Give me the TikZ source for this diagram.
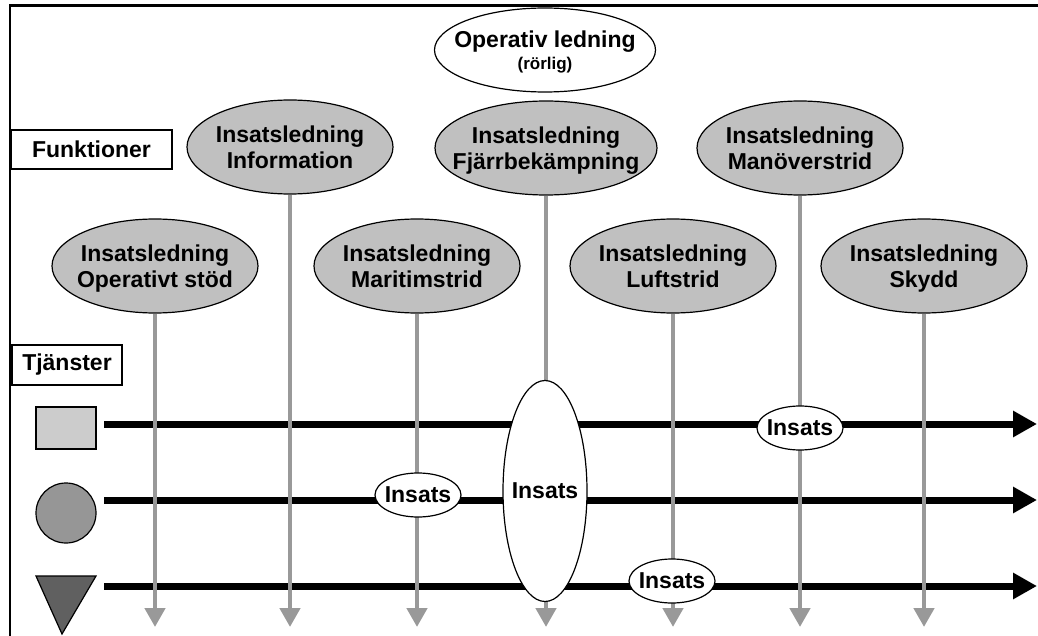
\documentclass[tikz,border=0pt]{standalone}
\usepackage{fontspec}
\setmainfont{Liberation Sans}
\usetikzlibrary{shapes.geometric,arrows.meta}
\definecolor{funkgray}{HTML}{C0C0C0}
\definecolor{linegray}{HTML}{999999}
\definecolor{sqgray}{HTML}{CCCCCC}
\definecolor{circgray}{HTML}{969696}
\definecolor{trigray}{HTML}{606060}

\begin{document}
\begin{tikzpicture}[x=0.5pt,y=-0.5pt,
	font=\bfseries\fontsize{11.5}{13}\selectfont,
	funk/.style={ellipse,draw,line width=0.6pt,fill=funkgray,align=center,text depth=-2pt,
		inner sep=0pt,inner xsep=-20pt,minimum width=103pt,minimum height=47pt},
	insats/.style={ellipse,draw,line width=0.6pt,fill=white,
		inner sep=0pt,inner xsep=-4pt,minimum width=43pt,minimum height=22pt},
	rubrik/.style={draw,line width=1pt,inner sep=0pt},
	tjanst/.style={linegray,line width=2.3pt,-{Triangle[width=10pt,length=9.5pt]}},
	flode/.style={line width=3.5pt,-{Triangle[width=12.5pt,length=12pt]}}]

		\useasboundingbox (0,0) rectangle (1038,636);
		\draw[line width=1.3pt] (10,636) -- (10,5.5) -- (1038,5.5);

		%% Ledning
		\node[funk,fill=white,minimum width=110.5pt,minimum height=42pt] at (545,50)(ol)
			{Operativ ledning\\[-2pt]{\fontsize{8.5}{9}\selectfont (rörlig)}};

		%% Funktioner, upper row
		\node[funk] at (290,147)(inf){Insatsledning\\Information};
		\node[funk,minimum width=111pt] at (546,148)(fj){Insatsledning\\Fjärrbekämpning};
		\node[funk] at (800,148)(man){Insatsledning\\Manöverstrid};

		%% Funktioner, lower row
		\node[funk] at (155,266)(ops){Insatsledning\\Operativt stöd};
		\node[funk] at (417,266)(mar){Insatsledning\\Maritimstrid};
		\node[funk] at (673,266)(luf){Insatsledning\\Luftstrid};
		\node[funk] at (924,266)(sky){Insatsledning\\Skydd};

		\node[rubrik,minimum width=80.5pt,minimum height=19.5pt] at (91.5,149.5)(fu){Funktioner};
		\node[rubrik,minimum width=55pt,minimum height=20pt] at (67,365)(tj){Tjänster};

		%% Tjänster
		\node[draw,line width=0.6pt,fill=sqgray,inner sep=0pt,
			minimum width=30pt,minimum height=21pt] at (66,428)(sq){};
		\node[circle,draw,line width=0.6pt,fill=circgray,inner sep=0pt,
			minimum size=30pt] at (66,513)(ci){};
		\draw[line width=0.6pt,fill=trigray] (36,576) -- (96,576) -- (62,634) -- cycle;

		\coordinate (s1) at (104,424);
		\coordinate (e1) at (1037,424);
		\coordinate (s2) at (104,500);
		\coordinate (e2) at (1037,500);
		\coordinate (s3) at (104,586);
		\coordinate (e3) at (1037,586);
		\draw[flode] (s1) -- (e1);
		\draw[flode] (s2) -- (e2);
		\draw[flode] (s3) -- (e3);

		\coordinate (bot) at (0,627);
		\foreach \f in {ops,inf,mar,fj,luf,man,sky}
			\draw[tjanst] (\f.south) -- (\f.south |- bot);

		%% Insats
		\node[insats] at (800,428)(i1){Insats};
		\node[insats] at (418,495)(i2){Insats};
		\node[insats,minimum width=42pt,minimum height=110.5pt] at (545,491)(i3){Insats};
		\node[insats] at (672,581)(i4){Insats};
\end{tikzpicture}
\end{document}
